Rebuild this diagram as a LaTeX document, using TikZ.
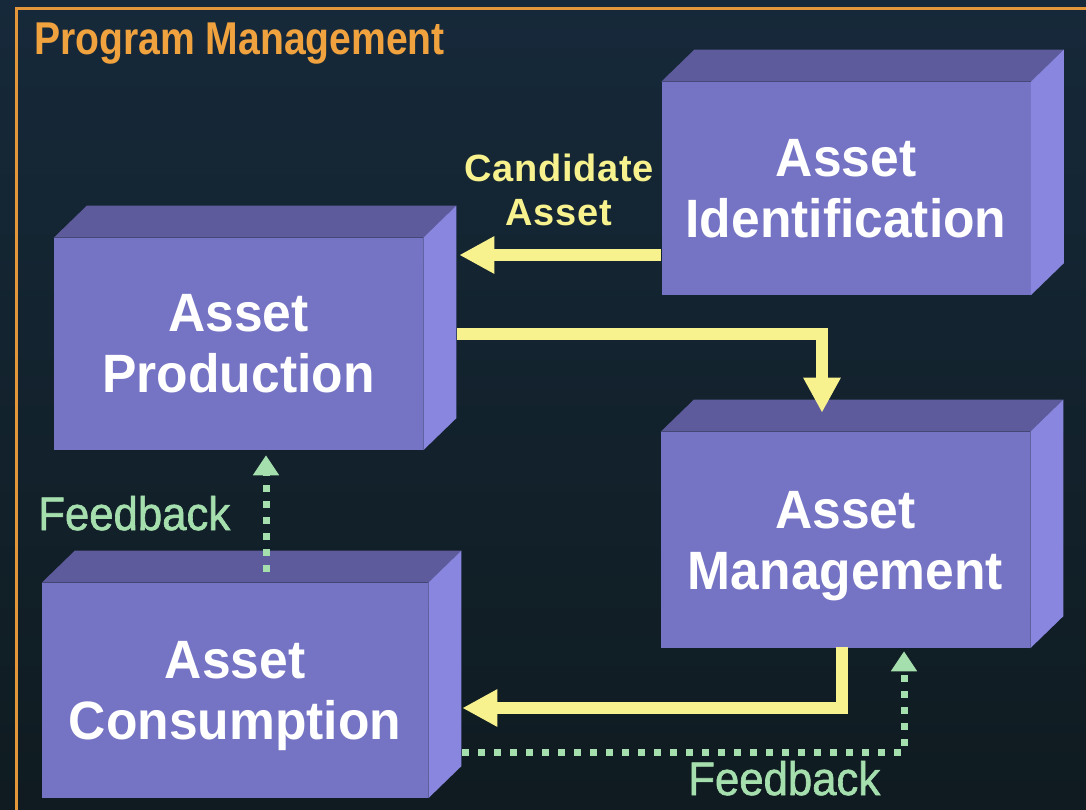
\documentclass[tikz,border=0pt]{standalone}
\usepackage{fontspec}
\usetikzlibrary{arrows.meta,calc}
\setmainfont{Liberation Sans}
\newfontfamily\boxfont[FakeStretch=0.955]{Liberation Sans Bold}
\newfontfamily\titlefont[FakeStretch=0.85]{Liberation Sans Bold}
\newfontfamily\candfont[LetterSpace=2]{Liberation Sans Bold}
\newfontfamily\fbfont[FakeStretch=0.93,FakeBold=1.3]{Liberation Sans}
\definecolor{bgtop}{HTML}{16293A}
\definecolor{bgbot}{HTML}{0F1B20}
\definecolor{frameor}{HTML}{E3973A}
\definecolor{titleor}{HTML}{F0A23F}
\definecolor{frontc}{HTML}{7573C4}
\definecolor{topc}{HTML}{5E5B9C}
\definecolor{sidec}{HTML}{8986DF}
\definecolor{arrowy}{HTML}{F7F28E}
\definecolor{fbgreen}{HTML}{A6DFAE}
\newcommand\nodepth[1]{\raisebox{0pt}[\height][0pt]{#1}}
\tikzset{
  frontface/.style={fill=frontc, inner sep=0pt, text=white, align=center,
    font=\boxfont\fontsize{40.5}{45.75}\selectfont},
  topface/.style={fill=topc},
  sideface/.style={fill=sidec},
  yarrow/.style={draw=arrowy, line width=9pt, line join=miter,
    -{Triangle[length=26.25pt,width=26.25pt]}},
  gdots/.style={draw=fbgreen, line width=5.25pt, dash pattern=on 5.25pt off 6.75pt,
    -{Triangle[length=15pt,width=18.75pt]}},
  candlbl/.style={text=arrowy, inner sep=0pt, align=center,
    font=\candfont\fontsize{28.5}{33}\selectfont},
  fblbl/.style={text=fbgreen, inner sep=0pt, font=\fbfont\fontsize{35.25}{40}\selectfont},
  titlelbl/.style={text=titleor, inner sep=0pt, font=\titlefont\fontsize{34.5}{40}\selectfont},
  frameline/.style={draw=frameor, line width=2.25pt}
}
\newcommand\cubefaces[1]{%
  \fill[topface] (#1.north west) -- ++(33,-32) -- ($(#1.north east)+(33,-32)$) -- (#1.north east) -- cycle;
  \fill[sideface] (#1.north east) -- ++(33,-32) -- ($(#1.south east)+(33,-32)$) -- (#1.south east) -- cycle;
}
\begin{document}
\begin{tikzpicture}[x=0.75pt,y=-0.75pt]
\useasboundingbox (0,0) rectangle (1086,810);
\shade[top color=bgtop, bottom color=bgbot] (0,0) rectangle (1086,810);
% frame
\draw[frameline] (16,810) -- (16,8) -- (1090,8);
\node[titlelbl, anchor=base west] (title) at (34,55) {Program Management};
% boxes
\node[frontface, minimum width=369*0.75pt, minimum height=213*0.75pt] (ident) at (846,188.5) {Asset\\Identification};
\node[frontface, minimum width=369*0.75pt, minimum height=212*0.75pt] (prod) at (238.5,344) {Asset\\Production};
\node[frontface, minimum width=369*0.75pt, minimum height=216*0.75pt] (mgmt) at (845.5,540) {Asset\\\nodepth{Management}};
\node[frontface, minimum width=386*0.75pt, minimum height=215*0.75pt] (cons) at (235,690.5) {Asset\\\nodepth{Consumption}};
\cubefaces{ident}
\cubefaces{prod}
\cubefaces{mgmt}
\cubefaces{cons}
% labels
\node[candlbl] (cand) at (559,190) {Candidate\\Asset};
\node[fblbl, anchor=base west] (fb1) at (38,530) {Feedback};
\node[fblbl, anchor=base west] (fb2) at (688,795) {Feedback};
% connectors
\draw[yarrow] ($(ident.west)+(0,66.5)$) -- ($(prod.east)+(36,-89)$);
\draw[yarrow] ($(prod.east)+(34,-10)$) -| ($(mgmt.north)+(-23.5,-19)$);
\draw[yarrow] ($(mgmt.south)+(-3.5,-1)$) |- ($(cons.east)+(34,17.5)$);
\draw[gdots] ($(cons.east)+(34,61.5)$) -| ($(mgmt.south)+(58.5,3)$);
\draw[gdots] ($(cons.north)+(31,-11)$) -- ($(prod.south)+(27.5,5)$);
\end{tikzpicture}
\end{document}
